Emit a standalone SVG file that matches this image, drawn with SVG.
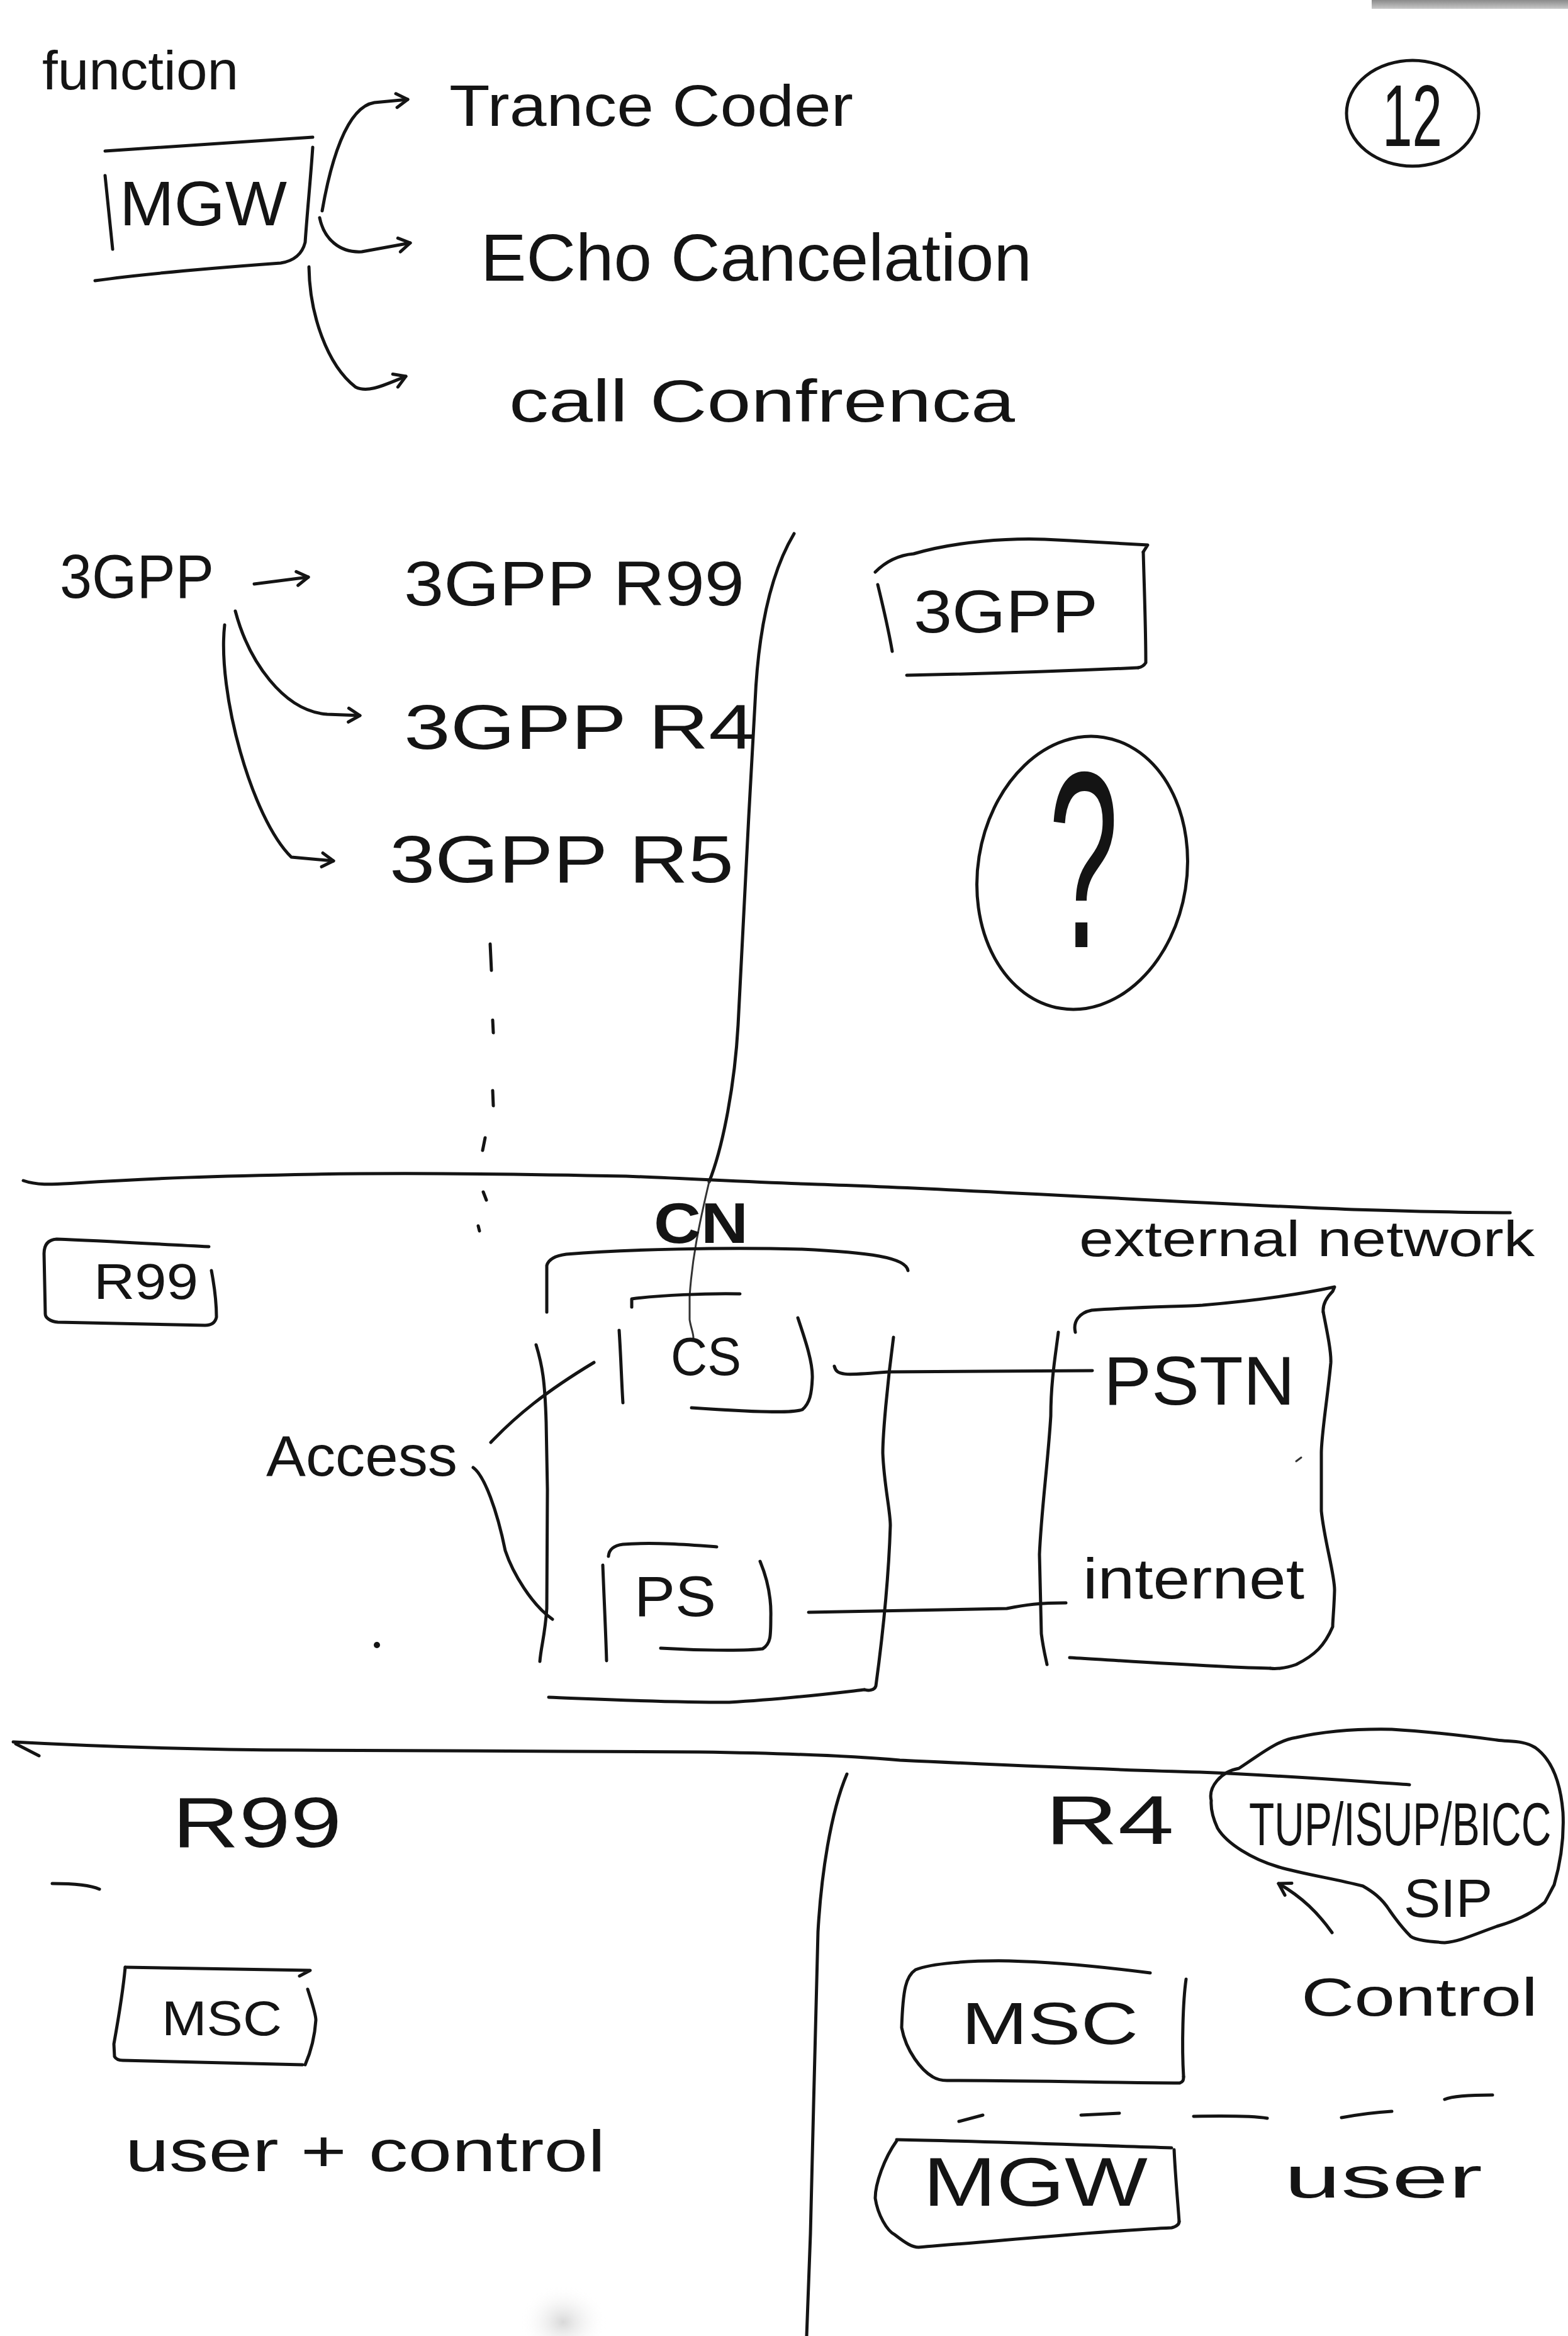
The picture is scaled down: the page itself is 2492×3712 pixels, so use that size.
<svg xmlns="http://www.w3.org/2000/svg" width="2492" height="3712" viewBox="0 0 2492 3712">
<defs>
<style>
.ink{fill:none;stroke:#141414;stroke-width:5;stroke-linecap:round;stroke-linejoin:round}
.thin{stroke-width:3;stroke:#333}
.hw{font-family:"Liberation Sans","DejaVu Sans",sans-serif;fill:#141414}
</style>
<marker id="ah" viewBox="0 0 30 30" refX="25" refY="15" markerWidth="30" markerHeight="30" markerUnits="userSpaceOnUse" orient="auto">
<path d="M7,4 L25,15 L7,26" fill="none" stroke="#141414" stroke-width="5" stroke-linecap="round" stroke-linejoin="round"/>
</marker>
<radialGradient id="smudge"><stop offset="0" stop-color="#d8d8d8"/><stop offset="1" stop-color="#ffffff" stop-opacity="0"/></radialGradient>
<linearGradient id="topbar" x1="0" y1="0" x2="0" y2="1"><stop offset="0" stop-color="#8a8a8a"/><stop offset="1" stop-color="#c8c8c8"/></linearGradient>
</defs>
<rect width="2492" height="3712" fill="#ffffff"/>
<rect x="2180" y="0" width="312" height="14" fill="url(#topbar)"/>
<ellipse cx="895" cy="3690" rx="70" ry="60" fill="url(#smudge)"/>

<!-- section separators -->
<g id="separators">
<path class="ink" d="M37,1876 C60,1884 83,1882 120,1880 C250,1872 332,1869 500,1866 C663,1863 850,1866 995,1869 C1100,1873 1200,1879 1300,1882 C1550,1890 1850,1910 2151,1922 C2250,1925 2330,1927 2400,1927"/>
<path class="ink" d="M21,2768 C150,2775 300,2780 477,2781 C700,2782 900,2783 1112,2784 C1250,2786 1350,2790 1430,2797 C1600,2805 1750,2812 1907,2816 C2050,2822 2150,2830 2240,2836"/>
<path class="ink" d="M25,2771 L62,2790"/>
<path class="ink" d="M1262,848 C1225,910 1205,1000 1200,1116 L1190,1297 L1173,1629 C1168,1720 1150,1820 1127,1878"/>
<path class="ink thin" d="M1127,1878 C1110,1950 1100,2000 1096,2060 L1096,2097 C1098,2110 1102,2118 1102,2126"/>
<path class="ink" d="M1346,2819 C1320,2880 1305,2980 1300,3070 C1296,3200 1292,3400 1288,3550 L1282,3712"/>
<g id="dotted-continuation">
<path class="ink" d="M779,1500 L781,1542"/>
<path class="ink" d="M783,1621 L784,1641"/>
<path class="ink" d="M783,1733 L784,1757"/>
<path class="ink" d="M771,1808 L767,1828"/>
<path class="ink" d="M768,1894 L773,1907"/>
<path class="ink" d="M760,1948 L762,1956"/>
</g>
<path class="ink" d="M83,2993 C120,2993 145,2996 158,3002"/>
<g id="plane-divider">
<path class="ink" d="M1524,3371 L1562,3361"/>
<path class="ink" d="M1718,3361 L1779,3358"/>
<path class="ink" d="M1897,3363 C1950,3362 1990,3362 2014,3366"/>
<path class="ink" d="M2132,3365 C2170,3358 2195,3356 2212,3355"/>
<path class="ink" d="M2296,3336 C2310,3330 2340,3329 2372,3329"/>
</g>
</g>

<!-- section 1 -->
<g id="title-function"><text class="hw" x="67" y="142" font-size="88" textLength="312" lengthAdjust="spacingAndGlyphs">function</text></g>
<g id="mgw-top">
<path class="ink" d="M167,240 L497,218"/>
<path class="ink" d="M167,279 L179,396"/>
<path class="ink" d="M497,234 C494,280 488,340 485,385 C480,405 465,415 446,418 C350,425 230,435 151,446"/>
<text class="hw" x="190" y="358" font-size="100" textLength="266" lengthAdjust="spacingAndGlyphs">MGW</text>
</g>
<g id="fn-transcoder"><text class="hw" x="714" y="200" font-size="92" textLength="642" lengthAdjust="spacingAndGlyphs">Trance Coder</text></g>
<g id="fn-echo"><text class="hw" x="764" y="446" font-size="105" textLength="876" lengthAdjust="spacingAndGlyphs">ECho Cancelation</text></g>
<g id="fn-call"><text class="hw" x="809" y="670" font-size="95" textLength="804" lengthAdjust="spacingAndGlyphs">call Confrenca</text></g>
<g id="page-number">
<ellipse class="ink" cx="2245" cy="180" rx="105" ry="84"/>
<text class="hw" x="2197" y="232" font-size="140" textLength="95" lengthAdjust="spacingAndGlyphs">12</text>
</g>

<!-- section 2 -->
<g id="g-3gpp"><text class="hw" x="95" y="950" font-size="98" textLength="245" lengthAdjust="spacingAndGlyphs">3GPP</text></g>
<g id="g-3gpp-r99"><text class="hw" x="642" y="962" font-size="100" textLength="541" lengthAdjust="spacingAndGlyphs">3GPP R99</text></g>
<g id="g-3gpp-r4"><text class="hw" x="642" y="1190" font-size="100" textLength="558" lengthAdjust="spacingAndGlyphs">3GPP R4</text></g>
<g id="g-3gpp-r5"><text class="hw" x="619" y="1402" font-size="105" textLength="547" lengthAdjust="spacingAndGlyphs">3GPP R5</text></g>
<g id="box-3gpp">
<path class="ink" d="M1391,909 C1410,890 1430,882 1452,880 C1520,860 1604,855 1660,857 C1720,860 1790,864 1824,866 L1817,877"/>
<path class="ink" d="M1817,877 C1819,950 1821,1000 1821,1053 C1818,1058 1815,1060 1809,1061"/>
<path class="ink" d="M1441,1073 C1600,1070 1700,1066 1809,1061"/>
<path class="ink" d="M1395,929 C1405,970 1412,1000 1418,1035"/>
<text class="hw" x="1452" y="1005" font-size="97" textLength="293" lengthAdjust="spacingAndGlyphs">3GPP</text>
</g>
<g id="question">
<ellipse class="ink" cx="1720" cy="1387" rx="166" ry="218" transform="rotate(9 1720 1387)"/>
<text class="hw" transform="translate(1722,1505) scale(0.5,1)" text-anchor="middle" font-size="400">?</text>
</g>

<g id="r99-label-box">
<path class="ink" d="M336,2019 C340,2040 344,2070 344,2093 C342,2102 336,2106 326,2106 L92,2101 C80,2100 72,2094 72,2088 L70,1992 C70,1978 76,1970 90,1969 C170,1972 250,1977 332,1981"/>
<text class="hw" x="149" y="2064" font-size="80" textLength="166" lengthAdjust="spacingAndGlyphs">R99</text>
</g>
<g id="cn-label"><text class="hw" x="1039" y="1975" font-size="90" font-weight="bold" textLength="150" lengthAdjust="spacingAndGlyphs">CN</text></g>
<g id="core-network">
<path class="ink" d="M869,2085 L869,2011 C872,2000 885,1995 900,1993 C1000,1985 1150,1982 1274,1985 C1380,1990 1440,1998 1443,2019"/>
<path class="ink" d="M852,2137 C862,2170 866,2194 868,2260 L870,2367 L869,2556 C866,2600 860,2615 858,2640"/>
<path class="ink" d="M1420,2125 C1410,2200 1403,2280 1403,2309 C1405,2360 1415,2400 1415,2424 C1412,2520 1400,2620 1392,2679 C1390,2686 1380,2687 1374,2685"/>
<path class="ink" d="M872,2697 C950,2700 1050,2705 1159,2705 C1250,2700 1330,2690 1374,2685"/>
</g>
<g id="cs">
<path class="ink" d="M1004,2077 L1004,2064 C1050,2058 1120,2055 1176,2056"/>
<path class="ink" d="M984,2114 C987,2160 988,2200 990,2229"/>
<path class="ink" d="M1268,2094 C1280,2130 1292,2165 1291,2190 C1290,2215 1287,2230 1275,2240 C1260,2246 1200,2244 1099,2237"/>
<text class="hw" x="1066" y="2185" font-size="85" textLength="112" lengthAdjust="spacingAndGlyphs">CS</text>
</g>
<g id="ps">
<path class="ink" d="M967,2473 C968,2462 975,2456 990,2454 C1040,2450 1100,2455 1139,2458"/>
<path class="ink" d="M958,2487 C960,2540 963,2600 964,2639"/>
<path class="ink" d="M1208,2481 C1220,2510 1226,2540 1225,2570 C1225,2600 1225,2612 1212,2620 C1180,2624 1100,2622 1050,2619"/>
<text class="hw" x="1008" y="2568" font-size="90" textLength="130" lengthAdjust="spacingAndGlyphs">PS</text>
</g>
<g id="external-label"><text class="hw" x="1715" y="1996" font-size="80" textLength="724" lengthAdjust="spacingAndGlyphs">external network</text></g>
<g id="external-network">
<path class="ink" d="M1709,2117 C1705,2100 1715,2086 1735,2082 C1800,2077 1880,2076 1911,2074 C1980,2068 2060,2058 2121,2045 L2118,2052 C2105,2065 2102,2075 2103,2085"/>
<path class="ink" d="M2103,2085 C2110,2120 2116,2150 2115,2166 C2110,2220 2100,2280 2100,2309 L2100,2401 C2105,2450 2121,2500 2121,2527 C2120,2560 2118,2575 2118,2585 C2105,2615 2090,2630 2060,2645 C2040,2652 2025,2652 2019,2651"/>
<path class="ink" d="M1700,2634 C1800,2640 1950,2650 2019,2651"/>
<path class="ink" d="M1682,2117 C1678,2150 1670,2194 1670,2250 C1665,2330 1655,2400 1652,2470 L1655,2596 C1658,2620 1662,2635 1664,2645"/>
<path class="ink thin" d="M2060,2322 L2068,2316"/>
</g>
<g id="pstn"><text class="hw" x="1754" y="2232" font-size="110" textLength="304" lengthAdjust="spacingAndGlyphs">PSTN</text></g>
<g id="internet"><text class="hw" x="1721" y="2540" font-size="90" textLength="352" lengthAdjust="spacingAndGlyphs">internet</text></g>
<g id="access">
<text class="hw" x="423" y="2345" font-size="90" textLength="304" lengthAdjust="spacingAndGlyphs">Access</text>
<circle cx="599" cy="2614" r="5" fill="#141414"/>
</g>

<!-- section 3 -->
<g id="r99-title"><text class="hw" x="274" y="2935" font-size="113" textLength="269" lengthAdjust="spacingAndGlyphs">R99</text></g>
<g id="msc-r99">
<path class="ink" d="M199,3126 L493,3131 L476,3140"/>
<path class="ink" d="M199,3126 C195,3170 186,3220 181,3248 L182,3268 C185,3273 190,3274 195,3274 L481,3281"/>
<path class="ink" d="M489,3161 C495,3180 502,3200 502,3210 C500,3240 492,3265 485,3281"/>
<text class="hw" x="257" y="3234" font-size="78" textLength="191" lengthAdjust="spacingAndGlyphs">MSC</text>
</g>
<g id="user-control"><text class="hw" x="199" y="3450" font-size="92" textLength="763" lengthAdjust="spacingAndGlyphs">user + control</text></g>
<g id="r4-title"><text class="hw" x="1661" y="2930" font-size="110" textLength="205" lengthAdjust="spacingAndGlyphs">R4</text></g>
<g id="protocols">
<path class="ink" d="M1925,2861 C1920,2840 1940,2815 1969,2810 C2000,2790 2030,2765 2060,2761 C2110,2750 2160,2747 2212,2748 C2280,2752 2340,2760 2379,2765 C2400,2768 2420,2765 2440,2777 C2465,2795 2480,2830 2484,2880 C2486,2920 2480,2960 2470,2995 C2462,3010 2458,3018 2455,3023 C2430,3045 2400,3055 2379,3061 C2340,3075 2320,3085 2296,3087 C2270,3085 2250,3083 2242,3077 C2225,3060 2215,3045 2208,3035 C2195,3015 2180,3005 2166,2997 C2120,2985 2070,2978 2030,2966 C1990,2954 1950,2930 1935,2905 C1928,2890 1924,2875 1925,2861"/>
<text class="hw" transform="translate(1985,2932) scale(1,1.45)" x="0" y="0" font-size="66">TUP/ISUP/BICC</text>
<text class="hw" x="2231" y="3046" font-size="85" textLength="141" lengthAdjust="spacingAndGlyphs">SIP</text>
</g>
<g id="msc-r4">
<path class="ink" d="M1828,3135 C1750,3125 1680,3118 1604,3116 C1540,3115 1480,3120 1455,3130 C1440,3140 1435,3160 1433,3222 C1440,3260 1465,3290 1482,3300 C1490,3305 1500,3306 1505,3306 C1650,3306 1780,3310 1875,3310 C1880,3308 1881,3306 1881,3300"/>
<path class="ink" d="M1885,3145 C1880,3180 1878,3250 1881,3300"/>
<text class="hw" x="1528" y="3248" font-size="95" textLength="281" lengthAdjust="spacingAndGlyphs">MSC</text>
</g>
<g id="control-label"><text class="hw" x="2068" y="3203" font-size="85" textLength="376" lengthAdjust="spacingAndGlyphs">Control</text></g>
<g id="mgw-r4">
<path class="ink" d="M1425,3400 C1550,3402 1700,3408 1862,3413"/>
<path class="ink" d="M1425,3402 C1405,3430 1391,3470 1391,3493 C1395,3520 1410,3545 1422,3551 C1440,3565 1450,3571 1460,3571 C1600,3560 1750,3545 1862,3540 C1870,3538 1874,3535 1874,3530"/>
<path class="ink" d="M1866,3416 C1868,3460 1872,3500 1874,3530"/>
<text class="hw" x="1467" y="3505" font-size="110" textLength="357" lengthAdjust="spacingAndGlyphs">MGW</text>
</g>
<g id="user-label"><text class="hw" x="2041" y="3492" font-size="92" textLength="315" lengthAdjust="spacingAndGlyphs">user</text></g>

<!-- connectors -->
<g id="connectors">
<path class="ink" d="M512,335 C525,260 550,170 595,163 L648,158" marker-end="url(#ah)"/>
<path class="ink" d="M508,346 C515,380 540,402 575,400 L652,386" marker-end="url(#ah)"/>
<path class="ink" d="M491,424 C492,500 520,580 565,615 C585,625 610,612 645,598" marker-end="url(#ah)"/>
<path class="ink" d="M404,928 L490,917" marker-end="url(#ah)"/>
<path class="ink" d="M374,971 C395,1050 450,1130 520,1135 L572,1137" marker-end="url(#ah)"/>
<path class="ink" d="M357,993 C345,1100 400,1300 463,1362 L530,1368" marker-end="url(#ah)"/>
<path class="ink" d="M1326,2171 C1330,2186 1340,2186 1412,2180 L1736,2178"/>
<path class="ink" d="M1285,2562 L1600,2556 C1630,2550 1652,2547 1694,2547"/>
<path class="ink" d="M780,2292 C820,2250 866,2212 944,2165"/>
<path class="ink" d="M752,2332 C770,2345 790,2400 803,2464 C815,2500 845,2550 878,2573"/>
<path class="ink" d="M2117,3071 C2095,3040 2070,3015 2032,2993" marker-end="url(#ah)"/>
</g>
</svg>
